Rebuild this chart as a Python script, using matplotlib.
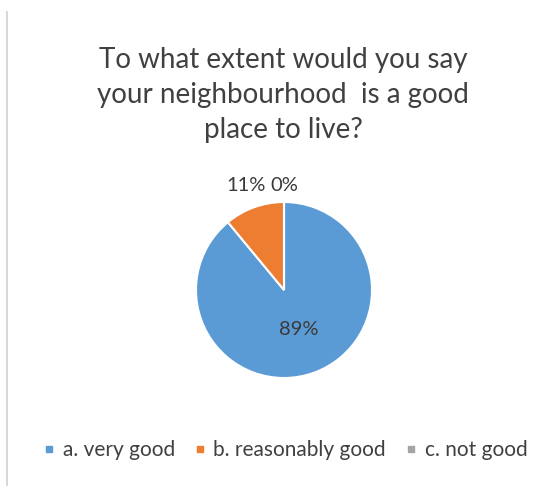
import numpy as np
import matplotlib.pyplot as plt
from matplotlib.lines import Line2D

categories = ["a. very good", "b. reasonably good", "c. not good"]
values = [89, 11, 0]
colors = ["#5B9BD5", "#ED7D31", "#A5A5A5"]
title = "To what extent would you say\nyour neighbourhood  is a good\nplace to live?"

plt.rcParams['font.family'] = ['Lato', 'DejaVu Sans']
text_color = "#404040"

W, H = 548, 486
fig = plt.figure(figsize=(W / 100, H / 100), dpi=100)
fig.patch.set_facecolor("white")

# thin frame line on the left edge of the chart area
fig.add_artist(Line2D([7 / W, 7 / W], [0, 1 - 12 / H], color="#D9D9D9", lw=1.5))

fig.text(283 / W, 1 - 95 / H, title, ha="center", va="center",
         fontsize=20, color=text_color, linespacing=1.42)

# pie: centre (284, 290), radius 88 px
cx, cy, r = 284, 290, 88
ax = fig.add_axes([(cx - r) / W, 1 - (cy + r) / H, 2 * r / W, 2 * r / H])
wedges, _ = ax.pie(values, colors=colors, startangle=90, counterclock=False,
                   wedgeprops=dict(edgecolor="white", linewidth=1.5))
ax.set_xlim(-1, 1)
ax.set_ylim(-1, 1)
ax.set_aspect("equal")
ax.axis("off")

total = sum(values)
for w, v in zip(wedges, values):
    ang = np.deg2rad((w.theta1 + w.theta2) / 2)
    if v / total > 0.5:
        d = 0.48
    else:
        d = 1.26 if v > 0 else 1.19
    x, y = d * np.cos(ang), d * np.sin(ang)
    ax.text(x, y, f"{v}%", ha="center", va="center", fontsize=14.5,
            color="#3A3A3A", clip_on=False)

handles = [Line2D([], [], marker="s", linestyle="", markersize=5,
                  markerfacecolor=c, markeredgecolor=c) for c in colors]
fig.legend(handles, categories, loc="center", bbox_to_anchor=(284 / W, 1 - 450 / H),
           ncol=3, frameon=False, labelcolor=text_color,
           prop=dict(size=15),
           handletextpad=0.25, columnspacing=0.8, handlelength=0.8)

fig.savefig("out.png", dpi=100)
